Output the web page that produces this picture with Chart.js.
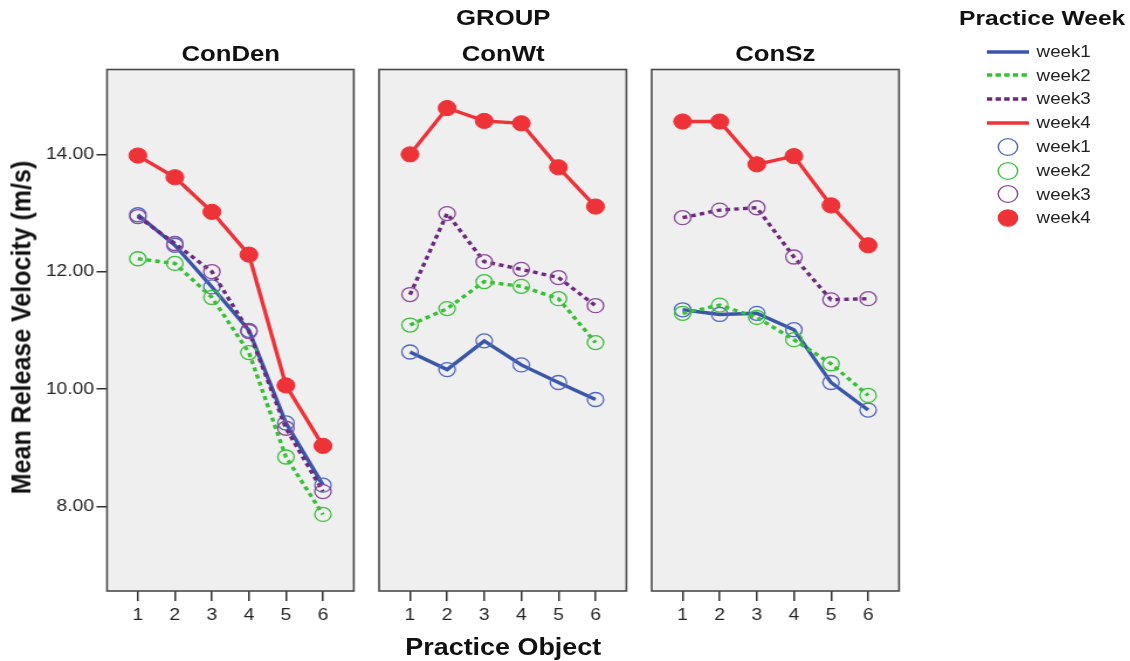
<!DOCTYPE html>
<html>
<head>
<meta charset="utf-8">
<script src="https://cdn.jsdelivr.net/npm/chart.js@4.4.1/dist/chart.umd.min.js"></script>
<style>
  html, body { margin: 0; padding: 0; background: #fff; overflow: hidden; }
  #page {
    position: absolute; left: 0; top: 0; width: 966px; height: 661px;
    transform: scaleX(1.17); transform-origin: 0 0;
    font-family: 'Liberation Sans', Arial, sans-serif; color: #111;
  }
  .t { position: absolute; white-space: nowrap; font-weight: bold; line-height: 1; }
  .leg { position: absolute; white-space: nowrap; line-height: 1; font-size: 16px; color: #222; }
  canvas { position: absolute; }
  svg { position: absolute; overflow: visible; }
</style>
</head>
<body>
<div id="page"></div>
<script>
// ---- data ----
const objects = [1, 2, 3, 4, 5, 6];
const groups = ['ConDen', 'ConWt', 'ConSz'];
const weeks = ['week1', 'week2', 'week3', 'week4'];
const yTicks = [8, 10, 12, 14];

const conDenWeek1 = [12.97, 12.45, 11.74, 11.00, 9.42, 8.36];
const conDenWeek2 = [12.22, 12.14, 11.56, 10.62, 8.84, 7.86];
const conDenWeek3 = [12.94, 12.48, 12.00, 10.98, 9.33, 8.25];
const conDenWeek4 = [13.98, 13.61, 13.02, 12.29, 10.06, 9.03];

const conWtWeek1 = [10.63, 10.33, 10.82, 10.41, 10.11, 9.82];
const conWtWeek2 = [11.09, 11.37, 11.83, 11.75, 11.54, 10.79];
const conWtWeek3 = [11.61, 12.99, 12.17, 12.04, 11.90, 11.42];
const conWtWeek4 = [14.00, 14.79, 14.57, 14.53, 13.78, 13.11];

const conSzWeek1 = [11.35, 11.27, 11.29, 11.01, 10.11, 9.64];
const conSzWeek2 = [11.29, 11.43, 11.22, 10.84, 10.43, 9.89];
const conSzWeek3 = [12.92, 13.05, 13.09, 12.25, 11.52, 11.54];
const conSzWeek4 = [14.56, 14.56, 13.83, 13.97, 13.13, 12.45];

const groupSeries = [
  [conDenWeek1, conDenWeek2, conDenWeek3, conDenWeek4],
  [conWtWeek1, conWtWeek2, conWtWeek3, conWtWeek4],
  [conSzWeek1, conSzWeek2, conSzWeek3, conSzWeek4]
];

// ---- styling ----
const FONT = "'Liberation Sans', Arial, sans-serif";
const weekStyle = [
  { line: '#3a56ab', point: '#5069c2', dash: [],     fill: 'rgba(0,0,0,0)', r: 7,   pw: 1.3 },
  { line: '#35c035', point: '#3cc23c', dash: [4, 3.5], fill: 'rgba(0,0,0,0)', r: 7, pw: 1.3 },
  { line: '#6d2a7c', point: '#8b4b9b', dash: [4, 3.5], fill: 'rgba(0,0,0,0)', r: 7, pw: 1.3 },
  { line: '#ee3338', point: '#ee3338', dash: [],     fill: '#ee3338',       r: 7.6, pw: 1 }
];

const PANEL_W = 211.54;
const panelLeft = [91.45, 324.36, 556.84];
const CANVAS_TOP = 60, CANVAS_H = 580;

const page = document.getElementById('page');

function addText(txt, cls, style) {
  const d = document.createElement('div');
  d.className = cls;
  d.textContent = txt;
  Object.assign(d.style, style);
  page.appendChild(d);
  return d;
}

// panel background and frame
const panelFrame = {
  id: 'panelFrame',
  beforeDraw(chart) {
    const { ctx, chartArea: a } = chart;
    ctx.save();
    ctx.fillStyle = '#efefef';
    ctx.fillRect(a.left, a.top, a.right - a.left, a.bottom - a.top);
    ctx.restore();
  },
  afterDraw(chart) {
    const { ctx, chartArea: a } = chart;
    ctx.save();
    ctx.strokeStyle = '#4a4a4a';
    ctx.lineWidth = 1.6;
    ctx.strokeRect(a.left, a.top, a.right - a.left, a.bottom - a.top);
    ctx.restore();
  }
};

function makePanel(g) {
  const first = g === 0;
  const cLeft = first ? 0 : panelLeft[g] - 12;
  const cWidth = first ? Math.ceil(panelLeft[0] + PANEL_W + 8) : Math.ceil(PANEL_W + 20);
  const padLeft = first ? 0 : 12;
  const padRight = cWidth - (first ? panelLeft[0] + PANEL_W : 12 + PANEL_W);

  const cv = document.createElement('canvas');
  cv.width = cWidth; cv.height = CANVAS_H;
  cv.style.left = cLeft + 'px'; cv.style.top = CANVAS_TOP + 'px';
  cv.style.width = cWidth + 'px'; cv.style.height = CANVAS_H + 'px';
  page.appendChild(cv);

  const datasets = weeks.map((w, i) => ({
    label: w,
    data: objects.map((x, k) => ({ x: x, y: groupSeries[g][i][k] })),
    borderColor: weekStyle[i].line,
    borderWidth: 3.4,
    borderDash: weekStyle[i].dash,
    borderCapStyle: 'butt',
    tension: 0,
    fill: false,
    pointRadius: weekStyle[i].r,
    pointBorderWidth: weekStyle[i].pw,
    pointBorderColor: weekStyle[i].point,
    pointBackgroundColor: weekStyle[i].fill,
    order: 3 - i
  }));

  new Chart(cv, {
    type: 'line',
    data: { datasets },
    options: {
      responsive: false,
      animation: false,
      events: [],
      layout: { padding: { left: padLeft, right: padRight, top: 9.5, bottom: 0 } },
      plugins: { legend: { display: false }, tooltip: { enabled: false } },
      scales: {
        x: {
          type: 'linear',
          min: 1 / 6, max: 41 / 6,
          afterBuildTicks(s) { s.ticks = objects.map(v => ({ value: v })); },
          afterFit(s) { s.height = 49; s.paddingLeft = 0; s.paddingRight = 0; },
          border: { display: false },
          grid: { drawOnChartArea: false, drawTicks: true, tickLength: 10, color: '#333', lineWidth: 1.5 },
          ticks: {
            padding: 5, maxRotation: 0, autoSkip: false,
            color: '#262626', font: { family: FONT, size: 16.5 },
            callback: v => String(v)
          }
        },
        y: {
          display: first,
          min: 6.555, max: 15.447,
          afterBuildTicks(s) { s.ticks = yTicks.map(v => ({ value: v })); },
          afterFit(s) {
            if (first) s.width = panelLeft[0];
            s.paddingTop = 0; s.paddingBottom = 0;
          },
          border: { display: false },
          grid: { drawOnChartArea: false, drawTicks: true, tickLength: 9, color: '#333', lineWidth: 1.5 },
          ticks: {
            padding: 2, color: '#262626', font: { family: FONT, size: 16.5 },
            callback: v => Number(v).toFixed(2)
          }
        }
      }
    },
    plugins: [panelFrame]
  });

  // panel heading
  addText(groups[g], 't', {
    left: (panelLeft[g] + PANEL_W / 2 - 100) + 'px', width: '200px', textAlign: 'center',
    top: '43.3px', fontSize: '22px'
  });
}

groups.forEach((_, g) => makePanel(g));

const midX = panelLeft[1] + PANEL_W / 2;
addText('GROUP', 't', { left: (midX - 100) + 'px', width: '200px', textAlign: 'center', top: '6.8px', fontSize: '22px' });
addText('Practice Object', 't', { left: (midX - 150) + 'px', width: '300px', textAlign: 'center', top: '635.5px', fontSize: '23px' });
addText('Mean Release Velocity (m/s)', 't', {
  left: (18.4 - 200) + 'px', width: '400px', textAlign: 'center', top: (327.5 - 12.5) + 'px',
  fontSize: '25px', transform: 'rotate(-90deg) scaleY(0.92)', transformOrigin: '50% 50%'
});

// legend
addText('Practice Week', 't', { left: '819.7px', top: '7.2px', fontSize: '21px' });
const svgNS = 'http://www.w3.org/2000/svg';
const rows = [51.5, 75.3, 99.1, 122.9, 146.7, 170.5, 194.3, 218.1];
weeks.concat(weeks).forEach((w, k) => {
  const i = k % 4;
  const y = rows[k];
  const svg = document.createElementNS(svgNS, 'svg');
  svg.setAttribute('width', '37'); svg.setAttribute('height', '20');
  svg.style.left = '843px'; svg.style.top = (y - 10) + 'px';
  let el;
  if (k < 4) {
    el = document.createElementNS(svgNS, 'line');
    el.setAttribute('x1', '0.5'); el.setAttribute('x2', '36.5');
    el.setAttribute('y1', '10'); el.setAttribute('y2', '10');
    el.setAttribute('stroke', weekStyle[i].line);
    el.setAttribute('stroke-width', '3.4');
    if (weekStyle[i].dash.length) el.setAttribute('stroke-dasharray', '4.6 2.8');
  } else {
    el = document.createElementNS(svgNS, 'circle');
    el.setAttribute('cx', '18.5'); el.setAttribute('cy', '10'); el.setAttribute('r', '8.3');
    el.setAttribute('stroke', weekStyle[i].point);
    el.setAttribute('stroke-width', i === 3 ? '1' : '1.3');
    el.setAttribute('fill', i === 3 ? weekStyle[i].fill : 'none');
  }
  svg.appendChild(el);
  page.appendChild(svg);
  addText(w, 'leg', { left: '886px', top: (y - 7.8) + 'px' });
});
</script>
</body>
</html>
